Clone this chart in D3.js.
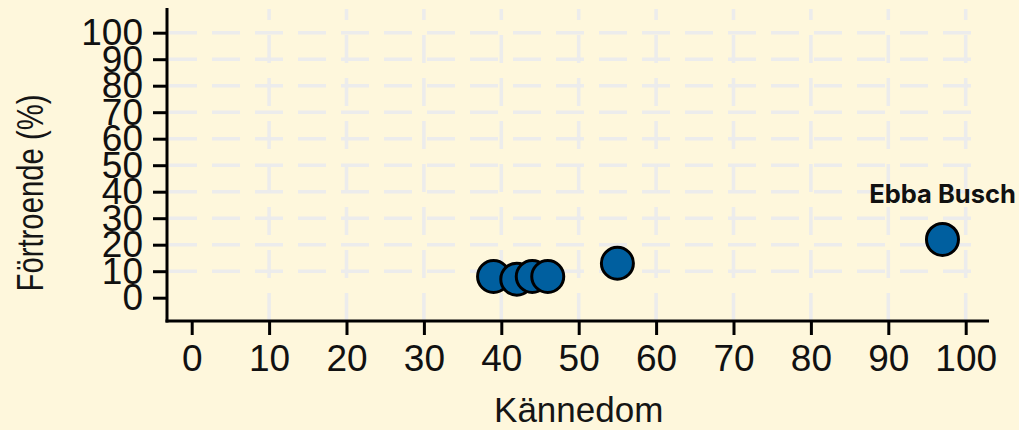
<!DOCTYPE html>
<html>
<head>
<meta charset="utf-8">
<script src="https://cdn.jsdelivr.net/npm/d3@7"></script>
<style>
  body { margin: 0; background: #fef7dc; }
  svg { display: block; }
  .tick text { font-family: "Liberation Sans", Arial, sans-serif; fill: #111; }
</style>
</head>
<body>
<div id="chart"></div>
<script>
// values
var kannedom   = [39, 42, 44, 46, 55, 97];
var fortroende = [8, 7, 8, 8, 13, 22];
var names      = ["", "", "", "", "", "Ebba Busch"];
var xTicks = [0, 10, 20, 30, 40, 50, 60, 70, 80, 90, 100];
var yTicks = [0, 10, 20, 30, 40, 50, 60, 70, 80, 90, 100];

var svgWidth = 1019, svgHeight = 430;
var margin = {top: 32.7, bottom: 132.3, left: 191.7, right: 53.3};
var axisX = 167, axisY = 321;   // where the axis lines sit

var points = kannedom.map(function(k, i) {
    return {x: k, y: fortroende[i], name: names[i]};
});

var svg = d3.select("#chart").append("svg")
    .attr("width", svgWidth)
    .attr("height", svgHeight);

svg.append("rect")
    .attr("width", svgWidth).attr("height", svgHeight)
    .attr("fill", "#fef7dc");

var xScale = d3.scaleLinear()
    .domain([0, 100])
    .range([margin.left, svgWidth - margin.right]);

var yScale = d3.scaleLinear()
    .domain([0, 100])
    .range([svgHeight - margin.bottom, margin.top]);

// dashed grid
var grid = svg.append("g").attr("class", "grid");

grid.selectAll("line.hgrid")
    .data(yTicks.filter(d => d > 0))
    .enter().append("line")
    .attr("class", "hgrid")
    .attr("x1", axisX + 2).attr("x2", 975)
    .attr("y1", d => yScale(d)).attr("y2", d => yScale(d))
    .attr("stroke", "#ececec")
    .attr("stroke-width", 3.5)
    .attr("stroke-dasharray", "28,15");

grid.selectAll("line.vgrid")
    .data(xTicks.filter(d => d > 0))
    .enter().append("line")
    .attr("class", "vgrid")
    .attr("x1", d => xScale(d)).attr("x2", d => xScale(d))
    .attr("y1", axisY).attr("y2", 9)
    .attr("stroke", "#ececec")
    .attr("stroke-width", 3.5)
    .attr("stroke-dasharray", "28,15");

// axes
var xAxis = d3.axisBottom(xScale)
    .tickValues(xTicks)
    .tickSize(14)
    .tickSizeOuter(0)
    .tickPadding(10);

var yAxis = d3.axisLeft(yScale)
    .tickValues(yTicks)
    .tickSize(14)
    .tickSizeOuter(0)
    .tickPadding(10);

var gx = svg.append("g")
    .attr("class", "xAxis")
    .attr("transform", "translate(0, " + axisY + ")")
    .call(xAxis);
gx.select(".domain").remove();
gx.selectAll("line").attr("stroke", "#000").attr("stroke-width", 3);
gx.selectAll("text").style("font-size", "37px");

var gy = svg.append("g")
    .attr("class", "yAxis")
    .attr("transform", "translate(" + axisX + ", 0)")
    .call(yAxis);
gy.select(".domain").remove();
gy.selectAll("line").attr("stroke", "#000").attr("stroke-width", 3);
gy.selectAll("text").style("font-size", "37px");

// axis lines, longer than the ticks span
svg.append("line")
    .attr("x1", axisX - 1.5).attr("x2", 989)
    .attr("y1", axisY).attr("y2", axisY)
    .attr("stroke", "#000").attr("stroke-width", 3);

svg.append("line")
    .attr("x1", axisX).attr("x2", axisX)
    .attr("y1", 8).attr("y2", axisY + 1.5)
    .attr("stroke", "#000").attr("stroke-width", 3);

// axis titles
svg.append("text")
    .attr("x", (xScale(0) + xScale(100)) / 2)
    .attr("y", 422)
    .attr("text-anchor", "middle")
    .style("font-family", "'Liberation Sans', Arial, sans-serif")
    .style("font-size", "35px")
    .attr("fill", "#151515")
    .text("Kännedom");

svg.append("text")
    .attr("transform", "translate(43, " + 193 + ") rotate(-90)")
    .attr("text-anchor", "middle")
    .attr("textLength", 197)
    .attr("lengthAdjust", "spacingAndGlyphs")
    .style("font-family", "'Liberation Sans', Arial, sans-serif")
    .style("font-size", "36px")
    .attr("fill", "#151515")
    .text("Förtroende (%)");

// points
svg.selectAll("circle.pt")
    .data(points)
    .enter().append("circle")
    .attr("class", "pt")
    .attr("cx", d => xScale(d.x))
    .attr("cy", d => yScale(d.y))
    .attr("r", 16)
    .attr("fill", "#005f9f")
    .attr("stroke", "#000")
    .attr("stroke-width", 3);

svg.selectAll("text.pt-label")
    .data(points.filter(d => d.name !== ""))
    .enter().append("text")
    .attr("class", "pt-label")
    .attr("x", d => xScale(d.x))
    .attr("y", d => yScale(d.y) - 36)
    .attr("text-anchor", "middle")
    .style("font-family", "Inter, 'Noto Sans', sans-serif")
    .style("font-weight", 700)
    .style("font-size", "25.5px")
    .attr("fill", "#111")
    .text(d => d.name);
</script>
</body>
</html>
